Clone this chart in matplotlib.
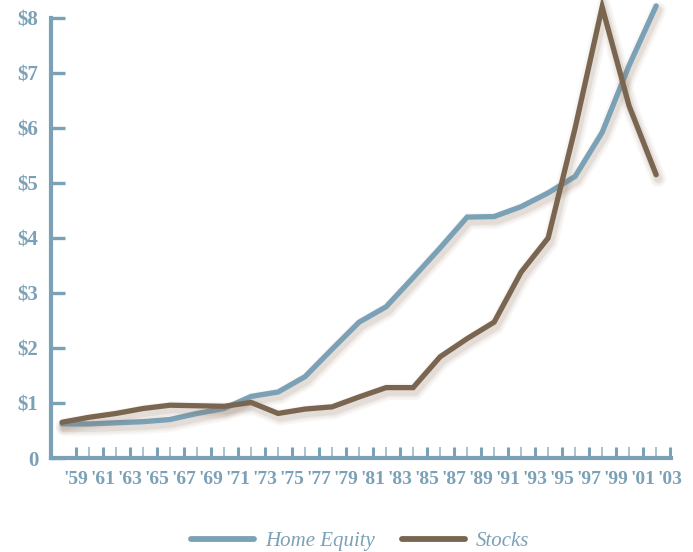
import matplotlib.pyplot as plt
import matplotlib.patheffects as pe

# growth of $1, plotted every two years
years = ["'59", "'61", "'63", "'65", "'67", "'69", "'71", "'73", "'75", "'77", "'79", "'81",
         "'83", "'85", "'87", "'89", "'91", "'93", "'95", "'97", "'99", "'01", "'03"]
home_equity = [0.62, 0.62, 0.64, 0.66, 0.70, 0.81, 0.90, 1.12, 1.20, 1.48, 1.98, 2.47,
               2.75, 3.28, 3.82, 4.38, 4.39, 4.57, 4.82, 5.12, 5.92, 7.14, 8.22]
stocks = [0.65, 0.74, 0.81, 0.90, 0.96, 0.95, 0.94, 1.01, 0.81, 0.89, 0.93, 1.11,
          1.28, 1.28, 1.84, 2.17, 2.47, 3.38, 4.00, 6.00, 8.20, 6.40, 5.15]
y_labels = ['0', '\\$1', '\\$2', '\\$3', '\\$4', '\\$5', '\\$6', '\\$7', '\\$8']

blue = '#7ba1b7'
brown = '#7a6650'

fig = plt.figure(figsize=(6.93, 5.52), dpi=100)
ax = fig.add_axes([51 / 693, 1 - 458 / 552, 620 / 693, 440 / 552])

x = list(range(len(years)))


def shadow(lw):
    fx = []
    for extra, a in [(8, 0.05), (5, 0.08), (2, 0.12)]:
        fx.append(pe.SimpleLineShadow(offset=(1.5, -3), shadow_color='#8a7058',
                                      alpha=a, linewidth=lw + extra))
    fx.append(pe.Normal())
    return fx


lw = 3.8
ax.plot(x, home_equity, color=blue, lw=lw, solid_capstyle='round',
        solid_joinstyle='miter', label='Home Equity', path_effects=shadow(lw),
        zorder=3, clip_on=False)
ax.plot(x, stocks, color=brown, lw=lw, solid_capstyle='round',
        solid_joinstyle='miter', label='Stocks', path_effects=shadow(lw),
        zorder=4, clip_on=False)

ax.set_xlim(-0.41, 22.55)
ax.set_ylim(0, 8)

for s in ['top', 'right']:
    ax.spines[s].set_visible(False)
for s in ['left', 'bottom']:
    ax.spines[s].set_color(blue)
    ax.spines[s].set_linewidth(3)

serif = ['Liberation Serif', 'DejaVu Serif']

ax.set_yticks(range(9))
ax.set_yticklabels(y_labels, family=serif, fontweight='bold', fontsize=15, color=blue)
ax.tick_params(axis='y', direction='in', length=10, width=2.4, color=blue, pad=9)

ax.set_xticks([i + 0.5 for i in x])
ax.set_xticklabels(years, family=serif, fontweight='bold', fontsize=14, color=blue)
ax.set_xticks([i + 1.0 for i in x[:-1]], minor=True)
ax.tick_params(axis='x', which='major', direction='in', length=8, width=2.2,
               color=blue, pad=9)
ax.tick_params(axis='x', which='minor', direction='in', length=8, width=1.4,
               color='#a9c2d0')

leg = fig.legend(loc='center', bbox_to_anchor=(0.52, 1 - 541 / 552), ncol=2,
                 frameon=False, handlelength=3.0, handletextpad=0.55,
                 columnspacing=1.3,
                 prop={'family': serif, 'style': 'italic', 'size': 15})
for t in leg.get_texts():
    t.set_color(blue)
for h in leg.legend_handles:
    h.set_path_effects([])
    h.set_linewidth(4.2)

fig.savefig('out.png', dpi=100)
